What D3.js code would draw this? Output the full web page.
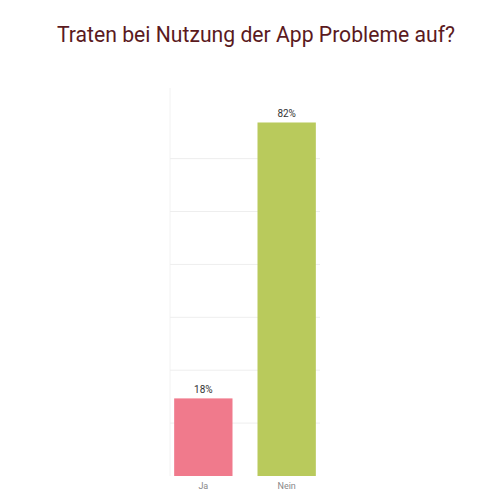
<!DOCTYPE html><html><head><meta charset="utf-8"><script src="https://cdn.jsdelivr.net/npm/d3@7"></script>
<style>body{margin:0;background:#fff}</style></head><body><script>
const categories=["Ja","Nein"];
const values=[0.18,0.82];
const colors=["#f07a8c","#b9ca5c"];
const gridTicks=[0.1227,0.2454,0.3681,0.4908,0.6135,0.7362];
const title="Traten bei Nutzung der App Probleme auf?";
const svg=d3.select("body").append("svg").attr("width",500).attr("height",500);
svg.append("text").attr("x",256).attr("y",42).attr("text-anchor","middle").attr("font-family","Roboto").attr("font-size",22).attr("fill","#5b1a1e").attr("textLength",398).attr("lengthAdjust","spacingAndGlyphs").text(title);
const x=d3.scaleBand().domain(categories).range([170,320]).paddingInner(0.3).paddingOuter(0.05);
const y=d3.scaleLinear().domain([0,0.9]).range([476,88]);
svg.append("line").attr("x1",170).attr("x2",170).attr("y1",88).attr("y2",476).attr("stroke","#f2f2f2");
svg.selectAll(".g").data(gridTicks).join("line").attr("x1",170).attr("x2",320).attr("y1",d=>y(d)).attr("y2",d=>y(d)).attr("stroke","#eeeeee");
svg.selectAll(".b").data(values).join("rect").attr("x",(d,i)=>x(categories[i])).attr("width",x.bandwidth()).attr("y",d=>y(d)).attr("height",d=>y(0)-y(d)).attr("fill",(d,i)=>colors[i]);
svg.selectAll(".l").data(values).join("text").attr("x",(d,i)=>x(categories[i])+x.bandwidth()/2).attr("y",d=>y(d)-5).attr("text-anchor","middle").attr("font-family","Roboto").attr("font-size",10).attr("fill","#333").text(d=>Math.round(d*100)+"%");
svg.selectAll(".c").data(categories).join("text").attr("x",d=>x(d)+x.bandwidth()/2).attr("y",489).attr("text-anchor","middle").attr("font-family","Roboto").attr("font-size",9).attr("fill","#888").text(d=>d);
</script></body></html>
